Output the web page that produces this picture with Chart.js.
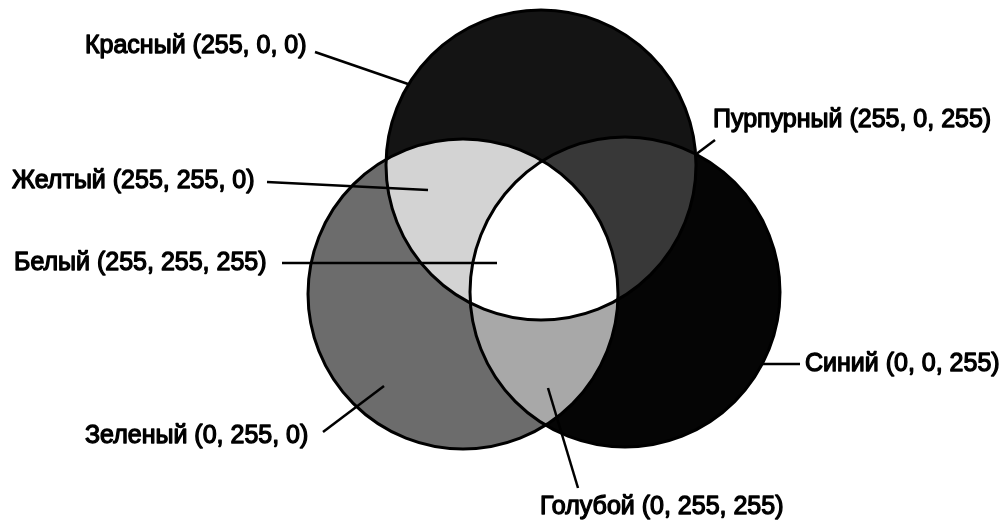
<!DOCTYPE html>
<html lang="ru">
<head>
<meta charset="UTF-8">
<title>RGB</title>
<style>
    body { margin: 0; background: #ffffff; }
    #wrap { width: 1006px; height: 528px; }
</style>
</head>
<body>
<div id="wrap"><canvas id="venn"></canvas></div>

<script src="https://cdn.jsdelivr.net/npm/chart.js@4.4.1/dist/chart.umd.min.js"></script>
<script>
    // three primaries: centre and radius in drawing units (1 unit = 1 px)
    const circleNames = ['Красный', 'Зеленый', 'Синий'];
    const circleX = [541, 463, 625];
    const circleY = [165, 294, 292];
    const circleR = [155, 155, 155];

    // callouts
    const labelTexts = [
        'Красный (255, 0, 0)',
        'Пурпурный (255, 0, 255)',
        'Желтый (255, 255, 0)',
        'Белый (255, 255, 255)',
        'Синий (0, 0, 255)',
        'Зеленый (0, 255, 0)',
        'Голубой (0, 255, 255)'
    ];
    const labelX = [85, 713, 12, 14, 805, 85, 540];
    const labelY = [46, 120, 181, 263, 364, 436, 507];
    const leaderFrom = [[315, 52], [715, 140], [267, 182], [282, 263], [800, 364], [323, 432], [578, 488]];
    const leaderTo = [[408, 84], [695, 155], [428, 190], [497, 263], [763, 364], [384, 386], [548, 388]];

    const shade = {
        red: '#141414', green: '#6c6c6c', blue: '#050505',
        yellow: '#d3d3d3', magenta: '#383838', cyan: '#a8a8a8', white: '#ffffff'
    };

    function pxRadius(chart, i) {
        const s = chart.scales.x;
        if (!s) return circleR[i];
        return Math.abs(s.getPixelForValue(circleR[i]) - s.getPixelForValue(0));
    }

    function circlePath(ctx, chart, i) {
        const cx = chart.scales.x.getPixelForValue(circleX[i]);
        const cy = chart.scales.y.getPixelForValue(circleY[i]);
        ctx.beginPath();
        ctx.arc(cx, cy, pxRadius(chart, i), 0, Math.PI * 2);
    }

    // paints the seven regions under the circle outlines
    const regionFill = {
        id: 'regionFill',
        beforeDatasetsDraw(chart) {
            const ctx = chart.ctx;
            const fillIn = (clips, target, color) => {
                ctx.save();
                clips.forEach(c => { circlePath(ctx, chart, c); ctx.clip(); });
                circlePath(ctx, chart, target);
                ctx.fillStyle = color;
                ctx.fill();
                ctx.restore();
            };
            fillIn([], 0, shade.red);
            fillIn([], 1, shade.green);
            fillIn([], 2, shade.blue);
            fillIn([0], 1, shade.yellow);
            fillIn([0], 2, shade.magenta);
            fillIn([1], 2, shade.cyan);
            fillIn([0, 1], 2, shade.white);
        }
    };

    const calloutText = {
        id: 'calloutText',
        afterDatasetsDraw(chart) {
            const ctx = chart.ctx;
            const sx = chart.scales.x, sy = chart.scales.y;
            ctx.save();
            ctx.font = "25px 'Liberation Sans', Arial, sans-serif";
            ctx.textBaseline = 'middle';
            ctx.fillStyle = '#000';
            ctx.strokeStyle = '#000';
            ctx.lineWidth = 1.3;
            ctx.lineJoin = 'round';
            labelTexts.forEach((t, i) => {
                const x = sx.getPixelForValue(labelX[i]);
                const y = sy.getPixelForValue(labelY[i]);
                ctx.fillText(t, x, y);
                ctx.strokeText(t, x, y);
            });
            ctx.restore();
        }
    };

    const datasets = [{
        type: 'scatter',
        label: 'circles',
        data: circleX.map((x, i) => ({ x: x, y: circleY[i] })),
        showLine: false,
        pointStyle: 'circle',
        pointRadius: c => pxRadius(c.chart, c.dataIndex),
        pointBackgroundColor: 'rgba(0,0,0,0)',
        pointBorderColor: '#000',
        pointBorderWidth: 3,
        clip: false,
        order: 2
    }];
    leaderFrom.forEach((p, i) => {
        datasets.push({
            type: 'scatter',
            label: labelTexts[i],
            data: [{ x: p[0], y: p[1] }, { x: leaderTo[i][0], y: leaderTo[i][1] }],
            showLine: true,
            borderColor: '#000',
            borderWidth: 2.5,
            pointRadius: 0,
            order: 1
        });
    });

    new Chart(document.getElementById('venn'), {
        type: 'scatter',
        data: { datasets: datasets },
        options: {
            responsive: true,
            maintainAspectRatio: false,
            animation: false,
            events: [],
            layout: { padding: 0 },
            plugins: { legend: { display: false }, tooltip: { enabled: false } },
            scales: {
                x: { type: 'linear', min: 0, max: 1006, display: false },
                y: { type: 'linear', min: 0, max: 528, reverse: true, display: false }
            }
        },
        plugins: [regionFill, calloutText]
    });
</script>
</body>
</html>
